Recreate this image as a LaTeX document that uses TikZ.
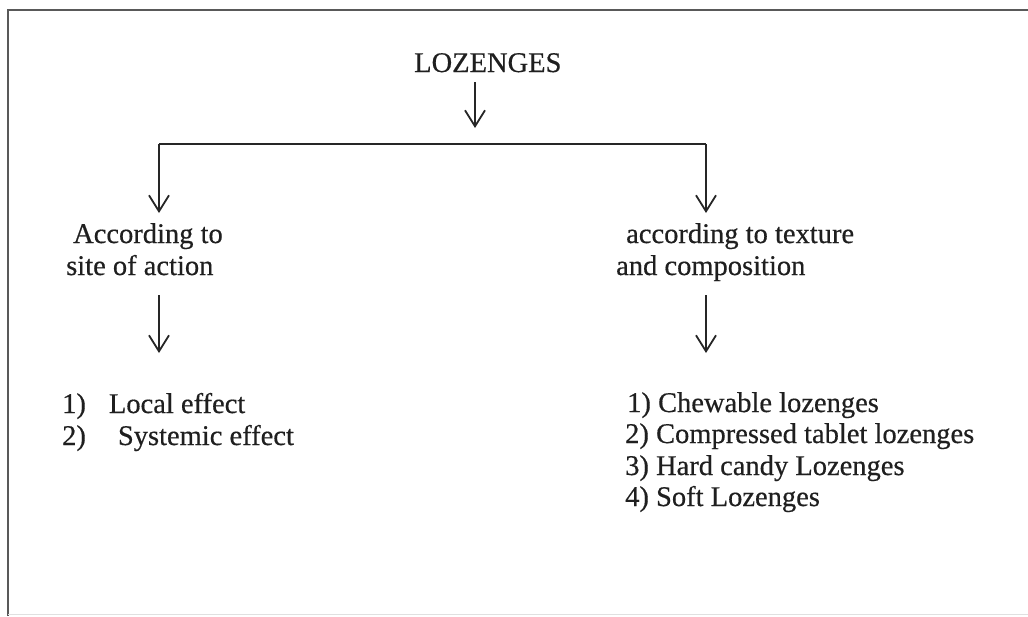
\documentclass[tikz,border=0pt]{standalone}
\usepackage{fontspec}
\setmainfont{Liberation Serif}
\newfontfamily\diagfont[FakeBold=0.5]{Liberation Serif}
\usetikzlibrary{arrows.meta}
\tikzset{
  lbl/.style={anchor=base west, inner sep=0pt, text=black!88, font=\diagfont\fontsize{28.5}{31}\selectfont},
  conn/.style={line width=1.8pt, draw=black!85},
  arr/.style={conn, -{Straight Barb[length=16pt,width=20pt,line width=1.8pt]}},
  frame/.style={line width=1.8pt, draw=black!65}
}
\begin{document}
\begin{tikzpicture}[x=1pt,y=-1pt]
\useasboundingbox (0,0) rectangle (1028,616);
% frame
\draw[frame] (8,616) -- (8,10) -- (1028,10);
\draw[line width=1pt, draw=black!12] (8,614) -- (1028,614);
% title
\node[lbl] (title) at (414,72) {LOZENGES};
\coordinate (t1) at (475,82);
\coordinate (t2) at (475,128);
\draw[arr] (t1) -- (t2);
% branch bar
\coordinate (bl) at (159,144);
\coordinate (br) at (706,144);
\coordinate (al) at (159,213);
\coordinate (ar) at (706,213);
\draw[conn] (bl) -- (br);
\draw[arr] (bl) -- (al);
\draw[arr] (br) -- (ar);
% left category
\node[lbl] (l1) at (73,243) {According to};
\node[lbl] (l2) at (66,275) {site of action};
\coordinate (la) at (159,295);
\coordinate (lb) at (159,353);
\draw[arr] (la) -- (lb);
% right category
\node[lbl] (r1) at (626,243) {according to texture};
\node[lbl] (r2) at (616,275) {and composition};
\coordinate (ra) at (706,295);
\coordinate (rb) at (706,353);
\draw[arr] (ra) -- (rb);
% left list
\node[lbl] (ln1) at (62,413) {1)\hspace{23pt}Local effect};
\node[lbl] (ln2) at (62,445) {2)\hspace{32pt}Systemic effect};
% right list
\node[lbl] (rn1) at (627,412) {1) Chewable lozenges};
\node[lbl] (rn2) at (625,443) {2) Compressed tablet lozenges};
\node[lbl] (rn3) at (625,475) {3) Hard candy Lozenges};
\node[lbl] (rn4) at (625,506) {4) Soft Lozenges};
\end{tikzpicture}
\end{document}
